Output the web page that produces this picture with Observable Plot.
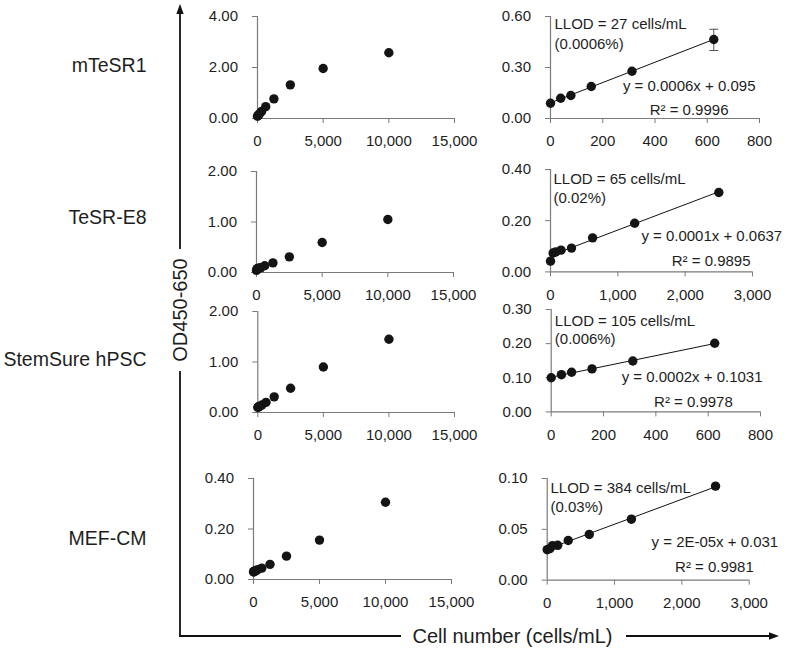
<!DOCTYPE html>
<html>
<head>
<meta charset="utf-8">
<script src="https://cdn.jsdelivr.net/npm/d3@7"></script>
<script src="https://cdn.jsdelivr.net/npm/@observablehq/plot@0.6"></script>
<style>
  html, body { margin: 0; padding: 0; background: #fff; }
  #chart { position: relative; width: 787px; height: 654px; overflow: hidden; font-family: "Liberation Sans", Arial, sans-serif; }
  #chart svg.plot-panel { position: absolute; overflow: visible; }
  #overlay { position: absolute; left: 0; top: 0; }
</style>
</head>
<body>
<div id="chart"></div>
<script>
// ---------- data ----------
const mediaNames = ["mTeSR1", "TeSR-E8", "StemSure hPSC", "MEF-CM"];
const cellNumbers = [0, 39, 78, 156, 312, 625, 1250, 2500, 5000, 10000];
const odMTeSR1   = [0.090, 0.119, 0.135, 0.188, 0.278, 0.465, 0.77, 1.32, 1.96, 2.58];
const odTeSRE8   = [0.042, 0.074, 0.078, 0.085, 0.093, 0.133, 0.190, 0.310, 0.594, 1.05];
const odStemSure = [0.100, 0.109, 0.116, 0.126, 0.149, 0.201, 0.31, 0.48, 0.90, 1.45];
const odMEFCM    = [0.030, 0.031, 0.034, 0.0343, 0.039, 0.045, 0.060, 0.0925, 0.156, 0.306];
const linearRangeMax = [625, 2500, 625, 2500];
const errCells = [625];
const errLow = [0.40];
const errHigh = [0.525];
const llodLabels = ["LLOD = 27 cells/mL", "LLOD = 65 cells/mL", "LLOD = 105 cells/mL", "LLOD = 384 cells/mL"];
const llodPercents = ["(0.0006%)", "(0.02%)", "(0.006%)", "(0.03%)"];
const equations = ["y = 0.0006x + 0.095", "y = 0.0001x + 0.0637", "y = 0.0002x + 0.1031", "y = 2E-05x + 0.031"];
const rSquared = ["R\u00b2 = 0.9996", "R\u00b2 = 0.9895", "R\u00b2 = 0.9978", "R\u00b2 = 0.9981"];
const fullXTicks = [0, 5000, 10000, 15000];
const fullYTicks = [[0, 2, 4], [0, 1, 2], [0, 1, 2], [0, 0.2, 0.4]];
const zoomXTicks = [[0, 200, 400, 600, 800], [0, 1000, 2000, 3000], [0, 200, 400, 600, 800], [0, 1000, 2000, 3000]];
const zoomYTicks = [[0, 0.3, 0.6], [0, 0.2, 0.4], [0, 0.1, 0.2, 0.3], [0, 0.05, 0.1]];
const yAxisTitle = "OD450-650";
const xAxisTitle = "Cell number (cells/mL)";

const odSeries = [odMTeSR1, odTeSRE8, odStemSure, odMEFCM];

// ---------- layout (pixel frames of plot areas) ----------
const leftFrames = [
  {l: 257, t: 16, r: 454, b: 118},
  {l: 256, t: 170.7, r: 453, b: 271.7},
  {l: 257.3, t: 310.7, r: 454, b: 411.7},
  {l: 253, t: 478.3, r: 451, b: 579.3}
];
const rightFrames = [
  {l: 550, t: 16, r: 759, b: 118},
  {l: 550, t: 169.3, r: 752, b: 271.7},
  {l: 550.7, t: 309.3, r: 760, b: 411.7},
  {l: 546.7, t: 478.3, r: 748.7, b: 580}
];
// annotation offsets relative to plot-area top-left: [llod dx, llod dy, pct dy, eq right x, eq dy, r2 right x, r2 dy]
const annotPos = [
  [4, 8, 27.3, 205, 69.7, 178, 94],
  [3, 10, 28.4, 231.7, 66.7, 200, 91.7],
  [3.6, 11.4, 29.7, 211.3, 67.4, 181.6, 92.4],
  [3.3, 10, 28.4, 231, 63.4, 206.6, 89]
];
const rowLabelY = [65, 217, 359, 538];

const FONT = '"Liberation Sans", Arial, sans-serif';
const axisColor = "#7a7a7a";
const textColor = "#1e1e1e";
const dotColor = "#141414";

const capSymbol = {
  draw(context, size) {
    const w = Math.sqrt(size / Math.PI);
    context.moveTo(-w, 0);
    context.lineTo(w, 0);
  }
};

const chart = document.getElementById("chart");

function makePanel(frame, svgL, svgR, xTicks, xFmt, yTicks, data, extra) {
  const svgT = frame.t - 14, svgB = frame.b + 36;
  const xDomain = [xTicks[0], xTicks[xTicks.length - 1]];
  const yDomain = [yTicks[0], yTicks[yTicks.length - 1]];
  const svg = Plot.plot({
    width: svgR - svgL,
    height: svgB - svgT,
    marginLeft: frame.l - svgL,
    marginRight: svgR - frame.r,
    marginTop: frame.t - svgT,
    marginBottom: svgB - frame.b,
    x: {domain: xDomain},
    y: {domain: yDomain},
    style: {fontFamily: FONT, fontSize: "15px", color: textColor, background: "transparent", overflow: "visible"},
    marks: [
      Plot.axisX({ticks: xTicks, tickFormat: xFmt, tickSize: 5, tickPadding: 12, stroke: axisColor, fill: textColor, label: null, fontSize: 15}),
      Plot.axisY({ticks: yTicks, tickFormat: d3.format(".2f"), tickSize: 5, tickPadding: 14.5, stroke: axisColor, fill: textColor, label: null, fontSize: 15}),
      Plot.ruleY([yDomain[0]], {stroke: axisColor, strokeWidth: 1.2}),
      Plot.ruleX([xDomain[0]], {stroke: axisColor, strokeWidth: 1.2}),
      ...(extra || []),
      Plot.dot(data, {x: "x", y: "y", r: 4.7, fill: dotColor, stroke: "none"})
    ]
  });
  svg.classList.add("plot-panel");
  svg.style.left = svgL + "px";
  svg.style.top = svgT + "px";
  chart.appendChild(svg);
}

for (let i = 0; i < 4; i++) {
  const full = cellNumbers.map((c, j) => ({x: c, y: odSeries[i][j]}));
  // left: full range
  makePanel(leftFrames[i], 190, 505, fullXTicks, d3.format(","), fullYTicks[i], full, []);
  // right: linear range with regression
  const lin = full.filter(d => d.x <= linearRangeMax[i]);
  const a = annotPos[i];
  const extra = [
    Plot.linearRegressionY(lin, {x: "x", y: "y", ci: 0, stroke: "#111", strokeWidth: 1})
  ];
  if (i === 0) {
    const errData = errCells.map((c, j) => ({x: c, lo: errLow[j], hi: errHigh[j]}));
    extra.push(Plot.ruleX(errData, {x: "x", y1: "lo", y2: "hi", stroke: "#555", strokeWidth: 1}));
    extra.push(Plot.dot(errData, {x: "x", y: "lo", symbol: capSymbol, r: 4.5, fill: "none", stroke: "#555", strokeWidth: 1}));
    extra.push(Plot.dot(errData, {x: "x", y: "hi", symbol: capSymbol, r: 4.5, fill: "none", stroke: "#555", strokeWidth: 1}));
  }
  extra.push(
    Plot.text([llodLabels[i]], {text: d => d, frameAnchor: "top-left", dx: a[0], dy: a[1], textAnchor: "start", lineAnchor: "middle", fill: textColor, fontSize: 15}),
    Plot.text([llodPercents[i]], {text: d => d, frameAnchor: "top-left", dx: a[0], dy: a[2], textAnchor: "start", lineAnchor: "middle", fill: textColor, fontSize: 15}),
    Plot.text([equations[i]], {text: d => d, frameAnchor: "top-left", dx: a[3], dy: a[4], textAnchor: "end", lineAnchor: "middle", fill: textColor, fontSize: 15}),
    Plot.text([rSquared[i]], {text: d => d, frameAnchor: "top-left", dx: a[5], dy: a[6], textAnchor: "end", lineAnchor: "middle", fill: textColor, fontSize: 15})
  );
  makePanel(rightFrames[i], 505, 787, zoomXTicks[i], d3.format(","), zoomYTicks[i], lin, extra);
}

// ---------- overlay: row labels, big axis titles with arrows ----------
const ns = "http://www.w3.org/2000/svg";
const ov = document.createElementNS(ns, "svg");
ov.setAttribute("id", "overlay");
ov.setAttribute("width", 787);
ov.setAttribute("height", 654);
function el(name, attrs, text) {
  const e = document.createElementNS(ns, name);
  for (const k in attrs) e.setAttribute(k, attrs[k]);
  if (text != null) e.textContent = text;
  ov.appendChild(e);
  return e;
}
mediaNames.forEach((name, i) => {
  el("text", {x: 146.5, y: rowLabelY[i], "text-anchor": "end", "dominant-baseline": "central",
    "font-family": FONT, "font-size": 19.5, fill: textColor}, name);
});
const lc = "#111", lw = 1.8;
el("line", {x1: 180, y1: 12, x2: 180, y2: 249, stroke: lc, "stroke-width": lw});
el("line", {x1: 180, y1: 371, x2: 180, y2: 636.9, stroke: lc, "stroke-width": lw});
el("line", {x1: 179.1, y1: 636, x2: 401, y2: 636, stroke: lc, "stroke-width": lw});
el("line", {x1: 626, y1: 636, x2: 771, y2: 636, stroke: lc, "stroke-width": lw});
el("path", {d: "M180,4 L176.3,14 L183.7,14 Z", fill: lc});
el("path", {d: "M779,636 L769,632.3 L769,639.7 Z", fill: lc});
el("text", {x: 0, y: 0, transform: "translate(180,310) rotate(-90)", "text-anchor": "middle", "dominant-baseline": "central",
  "font-family": FONT, "font-size": 20, fill: textColor}, yAxisTitle);
el("text", {x: 512.5, y: 636, "text-anchor": "middle", "dominant-baseline": "central",
  "font-family": FONT, "font-size": 20, fill: textColor}, xAxisTitle);
chart.appendChild(ov);
</script>
</body>
</html>
